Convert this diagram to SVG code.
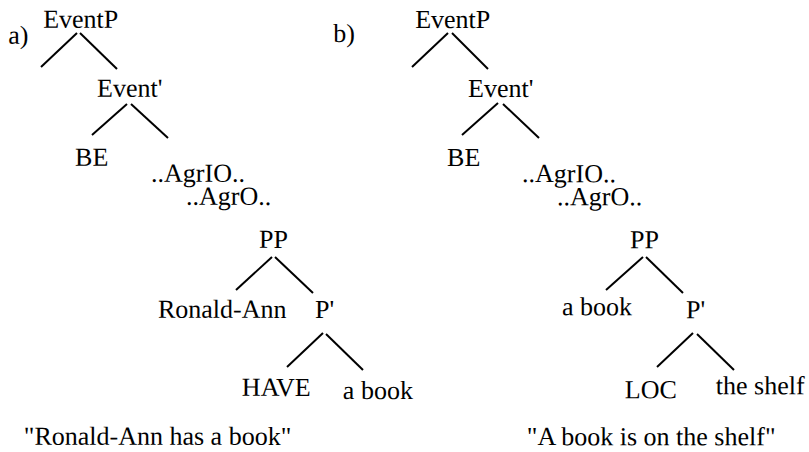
<svg xmlns="http://www.w3.org/2000/svg" width="809" height="452" viewBox="0 0 809 452">
<style>
.e line{stroke:#000;stroke-width:2}
</style>
<rect width="809" height="452" fill="#fff"/>
<g font-family="Liberation Serif, Times New Roman, serif" font-size="26" fill="#000" transform="rotate(0.05 404 226)">
<g id="label-a"><text x="8" y="44">a)</text></g>
<g id="label-b"><text x="333" y="42">b)</text></g>
<g id="a-EventP"><text x="43" y="28">EventP</text></g>
<g id="a-Event1"><text x="97" y="97">Event'</text></g>
<g id="a-BE"><text x="75" y="166">BE</text></g>
<g id="a-AgrIO"><text x="151" y="182">..AgrIO..</text></g>
<g id="a-AgrO"><text x="186" y="205">..AgrO..</text></g>
<g id="a-PP"><text x="259" y="248">PP</text></g>
<g id="a-RonaldAnn"><text x="158" y="318">Ronald-Ann</text></g>
<g id="a-P1"><text x="315" y="318">P'</text></g>
<g id="a-HAVE"><text x="242" y="396">HAVE</text></g>
<g id="a-abook"><text x="343" y="399">a book</text></g>
<g id="a-caption"><text x="24" y="445">"Ronald-Ann has a book"</text></g>
<g id="b-EventP"><text x="415" y="28">EventP</text></g>
<g id="b-Event1"><text x="468" y="97">Event'</text></g>
<g id="b-BE"><text x="447" y="166">BE</text></g>
<g id="b-AgrIO"><text x="522" y="182">..AgrIO..</text></g>
<g id="b-AgrO"><text x="557" y="205">..AgrO..</text></g>
<g id="b-PP"><text x="630" y="248">PP</text></g>
<g id="b-abook"><text x="562" y="315">a book</text></g>
<g id="b-P1"><text x="686" y="318">P'</text></g>
<g id="b-LOC"><text x="625" y="398">LOC</text></g>
<g id="b-theshelf"><text x="716" y="394">the shelf</text></g>
<g id="b-caption"><text x="527" y="445">"A book is on the shelf"</text></g>
</g>
<g id="connectors" class="e">
<line x1="77" y1="33" x2="41" y2="67"/>
<line x1="80" y1="33" x2="117" y2="69"/>
<line x1="127" y1="104" x2="92" y2="135"/>
<line x1="131" y1="104" x2="168" y2="138"/>
<line x1="272" y1="257" x2="236" y2="290"/>
<line x1="275" y1="257" x2="313" y2="293"/>
<line x1="323" y1="333" x2="287" y2="367"/>
<line x1="326" y1="334" x2="363" y2="370"/>
<line x1="448" y1="33" x2="412" y2="67"/>
<line x1="452" y1="33" x2="488" y2="69"/>
<line x1="498" y1="103" x2="462" y2="135"/>
<line x1="503" y1="104" x2="539" y2="138"/>
<line x1="643" y1="257" x2="606" y2="290"/>
<line x1="646" y1="257" x2="683" y2="293"/>
<line x1="693" y1="333" x2="657" y2="367"/>
<line x1="697" y1="334" x2="734" y2="370"/>
</g>
</svg>
